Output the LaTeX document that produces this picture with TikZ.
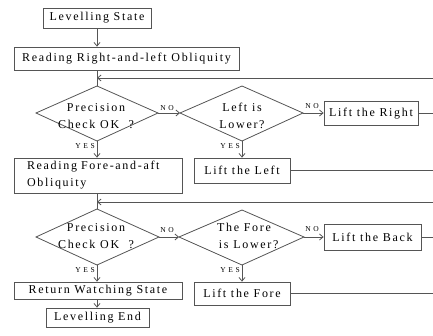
\documentclass[tikz,border=0pt]{standalone}
\usepackage{fontspec}
\setmainfont{Liberation Serif}
\newfontfamily\boxfont[LetterSpace=14]{Liberation Serif}
\newfontfamily\lblfont[LetterSpace=35]{Liberation Serif}
\usetikzlibrary{arrows.meta}
\definecolor{lc}{RGB}{85,85,85}
\begin{document}
\begin{tikzpicture}[x=1pt,y=-1pt,
  ln/.style={draw=lc,line width=0.8pt},
  arr/.style={ln,-{Straight Barb[length=3.5pt,width=6pt]}},
  box/.style={draw=lc,line width=0.8pt,inner sep=0pt,font=\boxfont\fontsize{12}{17}\selectfont},
  dtext/.style={inner sep=0pt,align=center,font=\boxfont\fontsize{12}{17}\selectfont},
  lbl/.style={inner sep=0pt,font=\lblfont\fontsize{7.5}{9}\selectfont,text=black}]
\useasboundingbox (0,0) rectangle (433,336);
\coordinate (edge) at (433,0);
% boxes
\node[box,minimum width=108pt,minimum height=20pt] (ls) at (97,18) {Levelling State};
\node[box,minimum width=225pt,minimum height=23pt] (rrl) at (126.5,58.5) {Reading Right-and-left Obliquity};
\node[box,minimum width=168pt,minimum height=35pt,align=left,text width=142pt] (rfa) at (98,175.5) {Reading Fore-and-aft\\Obliquity};
\node[box,minimum width=94pt,minimum height=24pt] (lr) at (371,113.5) {Lift the Right};
\node[box,minimum width=96pt,minimum height=25pt] (ll) at (242,170.5) {Lift the Left};
\node[box,minimum width=97pt,minimum height=26pt] (lb) at (372.5,237) {Lift the Back};
\node[box,minimum width=96pt,minimum height=23pt] (lf) at (242,293.5) {Lift the Fore};
\node[box,minimum width=168pt,minimum height=17pt] (rw) at (98,290.5) {Return Watching State};
\node[box,minimum width=103pt,minimum height=19pt] (le) at (97.5,317.5) {Levelling End};
% diamonds
\coordinate (d1t) at (97,86);  \coordinate (d1l) at (36,113);  \coordinate (d1r) at (158,113); \coordinate (d1b) at (97,141);
\coordinate (d2t) at (242,86); \coordinate (d2l) at (180,113); \coordinate (d2r) at (303,113); \coordinate (d2b) at (242,141);
\coordinate (d3t) at (97,209); \coordinate (d3l) at (36,237);  \coordinate (d3r) at (159,237); \coordinate (d3b) at (97,265);
\coordinate (d4t) at (242,210);\coordinate (d4l) at (179,237); \coordinate (d4r) at (304,237); \coordinate (d4b) at (242,265);
\draw[ln] (d1t) -- (d1r) -- (d1b) -- (d1l) -- cycle;
\draw[ln] (d2t) -- (d2r) -- (d2b) -- (d2l) -- cycle;
\draw[ln] (d3t) -- (d3r) -- (d3b) -- (d3l) -- cycle;
\draw[ln] (d4t) -- (d4r) -- (d4b) -- (d4l) -- cycle;
\node[dtext] (t1) at (96,116) {Precision\\Check OK\ \ ?};
\node[dtext] (t2) at (242,116) {Left is\\Lower?};
\node[dtext] (t3) at (96,236) {Precision\\Check OK\ \ ?};
\node[dtext] (t4) at (244,236) {The Fore\\\ \ is Lower?};
% labels
\node[lbl] (no1) at (167,108) {NO};
\node[lbl] (no2) at (312,106) {NO};
\node[lbl] (no3) at (167,230) {NO};
\node[lbl] (no4) at (312,229) {NO};
\node[lbl] (y1) at (85,146.5) {YES};
\node[lbl] (y2) at (230,146.5) {YES};
\node[lbl] (y3) at (85,270) {YES};
\node[lbl] (y4) at (230,270) {YES};
% connectors
\draw[arr] (ls.south) -- (ls.south |- rrl.north);
\draw[ln] (rrl.south -| d1t) -- (d1t);
\coordinate (fb1) at (433,78);
\draw[arr] (fb1) -- (fb1 -| d1t);
\draw[arr] (d1r) -- (d2l);
\draw[arr] (d2r) -- (d2r -| lr.west);
\draw[ln] (lr.east) -- (lr.east -| edge);
\draw[arr] (d1b) -- (d1b |- rfa.north);
\draw[arr] (d2b) -- (d2b |- ll.north);
\draw[ln] (ll.east) -- (ll.east -| edge);
\draw[ln] (rfa.south -| d3t) -- (d3t);
\coordinate (fb2) at (433,202);
\draw[arr] (fb2) -- (fb2 -| d3t);
\draw[arr] (d3r) -- (d4l);
\draw[arr] (d4r) -- (d4r -| lb.west);
\draw[ln] (lb.east) -- (lb.east -| edge);
\draw[arr] (d3b) -- (d3b |- rw.north);
\draw[arr] (d4b) -- (d4b |- lf.north);
\draw[ln] (lf.east) -- (lf.east -| edge);
\coordinate (rwb) at (rw.south -| d3b);
\draw[arr] (rwb) -- (rwb |- le.north);
\end{tikzpicture}
\end{document}
